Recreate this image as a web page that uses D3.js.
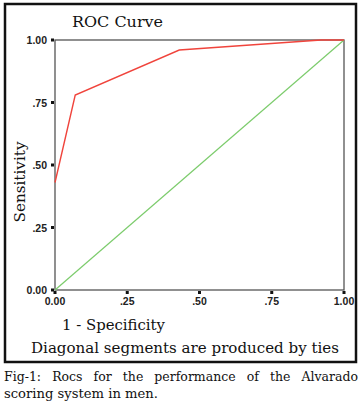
<!DOCTYPE html>
<html>
<head>
<meta charset="utf-8">
<script src="https://cdn.jsdelivr.net/npm/d3@7"></script>
<style>
  body { margin: 0; background: #fff; }
</style>
</head>
<body>
<div id="chart"></div>
<script>
// ROC curve points (1 - specificity, sensitivity)
var rocX = [0, 0.07, 0.43, 0.92, 1];
var rocY = [0.43, 0.78, 0.96, 1, 1];
// reference line
var refX = [0, 1];
var refY = [0, 1];
var tickVals = [0, 0.25, 0.5, 0.75, 1];
var tickLabels = ["0.00", ".25", ".50", ".75", "1.00"];

var W = 362, H = 407;
var serif = "'DejaVu Serif', 'Liberation Serif', serif";
var sans = "'Liberation Sans', Arial, sans-serif";

var svg = d3.select("#chart").append("svg")
    .attr("width", W)
    .attr("height", H);

// outer frame
svg.append("rect")
    .attr("x", 5).attr("y", 4)
    .attr("width", 351).attr("height", 358)
    .attr("fill", "none")
    .attr("stroke", "#111")
    .attr("stroke-width", 2.5);

var x = d3.scaleLinear().domain([0, 1]).range([55, 344]);
var y = d3.scaleLinear().domain([0, 1]).range([290, 40]);

// plot box
svg.append("rect")
    .attr("x", x(0)).attr("y", y(1))
    .attr("width", x(1) - x(0)).attr("height", y(0) - y(1))
    .attr("fill", "none")
    .attr("stroke", "#555")
    .attr("stroke-width", 1.3);

// tick marks (small squares) and labels
svg.selectAll(".ytick").data(tickVals).enter().append("rect")
    .attr("x", x(0) - 4).attr("y", function(d) { return y(d) - 1.5; })
    .attr("width", 3).attr("height", 3).attr("fill", "#111");
svg.selectAll(".xtick").data(tickVals).enter().append("rect")
    .attr("x", function(d) { return x(d) - 1.5; }).attr("y", y(0) + 1)
    .attr("width", 3).attr("height", 3).attr("fill", "#111");

svg.selectAll(".ylab").data(tickVals).enter().append("text")
    .attr("x", 47)
    .attr("y", function(d) { return y(d) + 4; })
    .attr("text-anchor", "end")
    .style("font-family", sans).style("font-size", "10.5px").style("font-weight", "bold").style("fill", "#222")
    .text(function(d, i) { return tickLabels[i]; });

svg.selectAll(".xlab").data(tickVals).enter().append("text")
    .attr("x", function(d) { return x(d); })
    .attr("y", y(0) + 15)
    .attr("text-anchor", "middle")
    .style("font-family", sans).style("font-size", "10.5px").style("font-weight", "bold").style("fill", "#222")
    .text(function(d, i) { return tickLabels[i]; });

var line = d3.line()
    .x(function(d) { return x(d[0]); })
    .y(function(d) { return y(d[1]); });

// diagonal
svg.append("path")
    .datum(d3.zip(refX, refY))
    .attr("d", line)
    .attr("fill", "none")
    .attr("stroke", "#7ccc6c")
    .attr("stroke-width", 1.2);

// ROC curve
svg.append("path")
    .datum(d3.zip(rocX, rocY))
    .attr("d", line)
    .attr("fill", "none")
    .attr("stroke", "#f0443c")
    .attr("stroke-width", 1.4);

function label(tx, ty, size, str, len) {
    var t = svg.append("text")
        .attr("x", tx).attr("y", ty)
        .style("font-family", serif)
        .style("font-size", size + "px")
        .style("fill", "#111")
        .text(str);
    if (len) t.attr("textLength", len).attr("lengthAdjust", "spacingAndGlyphs");
    return t;
}

// titles
label(72, 27, 15, "ROC Curve", 91);

label(0, 0, 14.5, "Sensitivity", 81)
    .attr("transform", "translate(25,182) rotate(-90)")
    .attr("text-anchor", "middle");

label(62, 330, 15, "1 - Specificity", 103);
label(31, 353, 14.5, "Diagonal segments are produced by ties", 308);

// caption, first line justified with word spacing
var cap1 = label(4, 381, 12.5, "Fig-1: Rocs for the performance of the Alvarado");
var natural = cap1.node().getComputedTextLength();
var gaps = 7;
cap1.style("word-spacing", Math.max(0, (354 - natural) / gaps) + "px");
label(4, 398, 12.5, "scoring system in men.", 154);
</script>
</body>
</html>
